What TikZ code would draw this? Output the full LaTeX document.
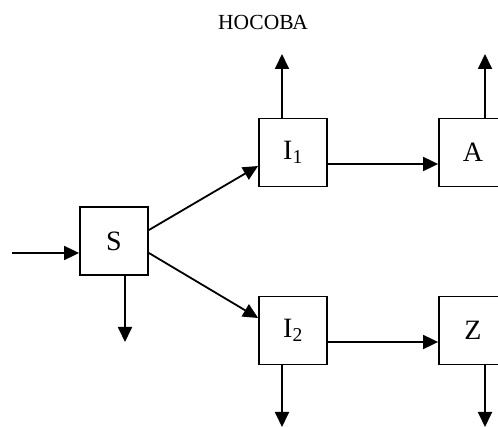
\documentclass[tikz,border=0pt]{standalone}
\usepackage{fontspec}
\setmainfont{Liberation Serif}
\usepackage{tikz}
\usetikzlibrary{arrows.meta}

\begin{document}
\begin{tikzpicture}[x=1pt, y=-1pt, line width=1.8pt,
        block/.style={draw, minimum size=68pt, inner sep=0pt, font=\fontsize{28}{30}\selectfont},
        flow/.style={-{Triangle[length=15pt, width=14pt]}}]
        \useasboundingbox (0,0) rectangle (498,427);
        \clip (0,0) rectangle (498,427);

        % Title
        \node[font=\fontsize{21.5}{23}\selectfont] (title) at (263,22) {НОСОВА};

        % Blocks
        \node[block] (S) at (114,241) {S};
        \node[block] (I1) at (293,152.5) {I\textsubscript{1}};
        \node[block] (I2) at (293,330.5) {I\textsubscript{2}};
        \node[block] (A) at (473,152.5) {A};
        \node[block] (Z) at (473,330.5) {Z};

        % Free ends
        \coordinate (in) at (12,253);
        \coordinate (outS) at (125,342);
        \coordinate (outI1) at (282,54);
        \coordinate (outA) at (485,54);
        \coordinate (outI2) at (282,427);
        \coordinate (outZ) at (485,427);

        % Input and branches
        \draw[flow] (in) -- (in -| S.west);
        \draw[flow] ([yshift=11pt]S.east) -- ([yshift=-13.5pt]I1.west);
        \draw[flow] ([yshift=-12pt]S.east) -- ([yshift=12.5pt]I2.west);
        \draw[flow] ([yshift=-11.5pt]I1.east) -- ([yshift=-11.5pt]A.west);
        \draw[flow] ([yshift=-11.5pt]I2.east) -- ([yshift=-11.5pt]Z.west);

        % Outputs
        \draw[flow] (outS |- S.south) -- (outS);
        \draw[flow] (outI1 |- I1.north) -- (outI1);
        \draw[flow] (outA |- A.north) -- (outA);
        \draw[flow] (outI2 |- I2.south) -- (outI2);
        \draw[flow] (outZ |- Z.south) -- (outZ);
\end{tikzpicture}
\end{document}
